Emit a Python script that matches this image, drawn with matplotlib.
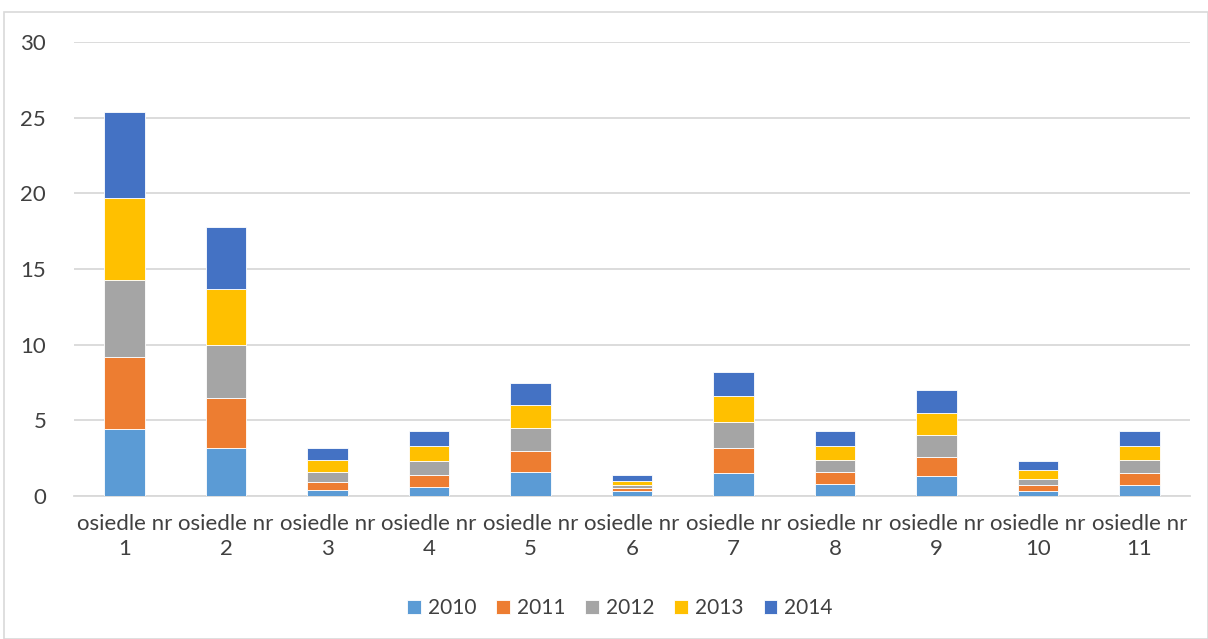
import matplotlib.pyplot as plt
import numpy as np
from matplotlib.patches import Rectangle

plt.rcParams['font.family'] = ['Lato', 'DejaVu Sans']

categories = ["osiedle nr\n%d" % i for i in range(1, 12)]
years = ["2010", "2011", "2012", "2013", "2014"]
v2010 = [4.4, 3.2, 0.4, 0.6, 1.6, 0.3, 1.5, 0.8, 1.3, 0.3, 0.7]
v2011 = [4.8, 3.3, 0.5, 0.8, 1.4, 0.2, 1.7, 0.8, 1.3, 0.4, 0.8]
v2012 = [5.1, 3.5, 0.7, 0.9, 1.5, 0.2, 1.7, 0.8, 1.4, 0.4, 0.9]
v2013 = [5.4, 3.7, 0.8, 1.0, 1.5, 0.3, 1.7, 0.9, 1.5, 0.6, 0.9]
v2014 = [5.7, 4.1, 0.8, 1.0, 1.5, 0.4, 1.6, 1.0, 1.5, 0.6, 1.0]
series = [v2010, v2011, v2012, v2013, v2014]
colors = ["#5B9BD5", "#ED7D31", "#A5A5A5", "#FFC000", "#4472C4"]

fig = plt.figure(figsize=(12.08, 6.39), dpi=100)
ax = fig.add_axes([74 / 1208, 1 - 496 / 639, 1116 / 1208, 454 / 639])

x = np.arange(len(categories))
bottom = np.zeros(len(categories))
for name, vals, c in zip(years, series, colors):
    ax.bar(x, vals, width=0.4, bottom=bottom, color=c, label=name,
           edgecolor="white", linewidth=0.6, zorder=3)
    bottom += np.array(vals)

ax.set_xlim(-0.5, len(categories) - 0.5)
ax.set_ylim(0, 30)
ax.set_yticks(range(0, 31, 5))
ax.yaxis.grid(True, color="#d9d9d9", linewidth=1.3, zorder=0)
ax.set_xticks(x)
ax.set_xticklabels(categories, fontsize=16, color="#404040", linespacing=1.3)
ax.tick_params(axis="y", labelsize=16, labelcolor="#404040", length=0, pad=20)
ax.tick_params(axis="x", length=0, pad=13)
for s in ["top", "right", "left"]:
    ax.spines[s].set_visible(False)
ax.spines["bottom"].set_color("#d9d9d9")
ax.spines["bottom"].set_linewidth(1.3)

leg = fig.legend(loc="center", bbox_to_anchor=(620 / 1208, 1 - 608 / 639), ncol=5,
                 frameon=False, fontsize=15, handlelength=0.65, handleheight=0.65,
                 handletextpad=0.35, columnspacing=0.95)
for t in leg.get_texts():
    t.set_color("#404040")

fig.patches.append(Rectangle((4 / 1208, 0), 1 - 4 / 1208, 1 - 12 / 639,
                             transform=fig.transFigure, fill=False,
                             edgecolor="#d9d9d9", linewidth=1.2))

fig.savefig("out.png", dpi=100)
